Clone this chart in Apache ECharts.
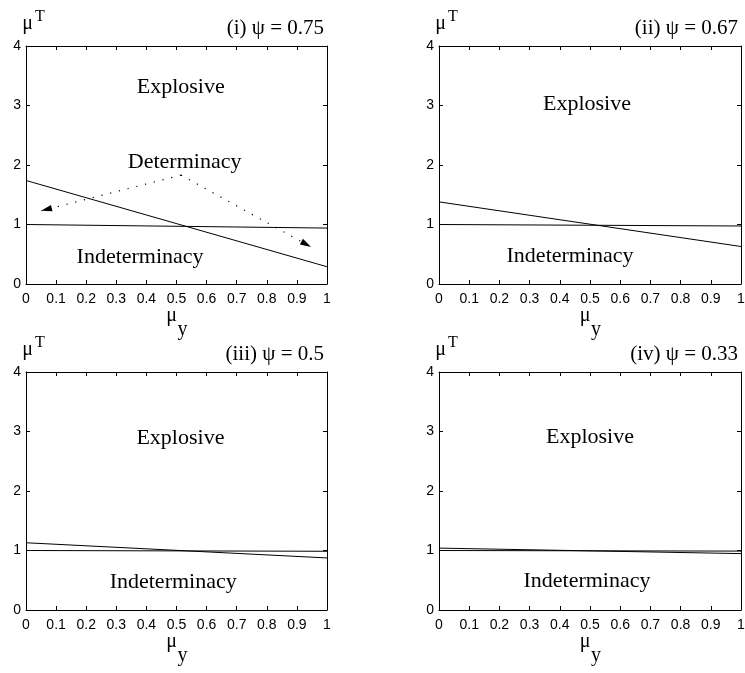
<!DOCTYPE html>
<html>
<head>
<meta charset="utf-8">
<script src="https://cdn.jsdelivr.net/npm/echarts@6/dist/echarts.min.js"></script>
<style>
html, body { margin: 0; padding: 0; background: #fff; }
#chart { width: 745px; height: 673px; }
</style>
</head>
<body>
<div id="chart"></div>
<script>
// Horizontal axis samples (mu_y) at which both boundary lines are given
const muY = [0, 1];

// Boundary lines of each panel (mu^T value at mu_y = 0 and mu_y = 1)
const flatLine1 = [1.00, 0.94];
const steepLine1 = [1.74, 0.29];
const flatLine2 = [1.00, 0.975];
const steepLine2 = [1.38, 0.63];
const flatLine3 = [1.00, 0.987];
const steepLine3 = [1.13, 0.875];
const flatLine4 = [1.00, 0.99];
const steepLine4 = [1.04, 0.948];

// Panel titles
const panelTitles = ['(i) \u03C8 = 0.75', '(ii) \u03C8 = 0.67', '(iii) \u03C8 = 0.5', '(iv) \u03C8 = 0.33'];

// Region names with their anchor in data coordinates [mu_y, mu^T, name]
const regions1 = [[0.514, 3.31, 'Explosive'], [0.527, 2.05, 'Determinacy'], [0.379, 0.45, 'Indeterminacy']];
const regions2 = [[0.490, 3.02, 'Explosive'], [0.434, 0.46, 'Indeterminacy']];
const regions3 = [[0.513, 2.89, 'Explosive'], [0.489, 0.47, 'Indeterminacy']];
const regions4 = [[0.500, 2.91, 'Explosive'], [0.490, 0.49, 'Indeterminacy']];

// Dotted arrows from the determinacy label down to the band between the lines
const arrowPeak = [0.515, 1.83];
const arrowTips = [[0.050, 1.23], [0.947, 0.622]];

// Tick labels
const xTickLabels = ['0', '0.1', '0.2', '0.3', '0.4', '0.5', '0.6', '0.7', '0.8', '0.9', '1'];
const yTickLabels = ['0', '1', '2', '3', '4'];

const panels = [
  { flat: flatLine1, steep: steepLine1, regions: regions1, title: panelTitles[0] },
  { flat: flatLine2, steep: steepLine2, regions: regions2, title: panelTitles[1] },
  { flat: flatLine3, steep: steepLine3, regions: regions3, title: panelTitles[2] },
  { flat: flatLine4, steep: steepLine4, regions: regions4, title: panelTitles[3] }
];

// Plot boxes in pixels
const boxes = [
  { left: 26, top: 46, width: 301, height: 238 },
  { left: 439, top: 46, width: 302, height: 238 },
  { left: 26, top: 372, width: 301, height: 238 },
  { left: 439, top: 372, width: 302, height: 238 }
];

const SERIF = 'Liberation Serif';
const SANS = 'Liberation Sans';
const axisLine = { show: true, onZero: false, lineStyle: { color: '#000', width: 1 } };
const axisTick = { show: true, inside: true, length: 4, lineStyle: { color: '#000', width: 1 } };

const grids = [], xAxes = [], yAxes = [], series = [], graphics = [];

function serifText(x, y, text, size, align) {
  return {
    type: 'text', x: x, y: y, silent: true,
    style: {
      text: text, fill: '#000', font: size + 'px ' + SERIF,
      textAlign: align, align: align, textVerticalAlign: 'middle', verticalAlign: 'middle'
    }
  };
}

panels.forEach((p, i) => {
  const b = boxes[i];
  grids.push({ left: b.left, top: b.top, width: b.width, height: b.height, show: false, containLabel: false, outerBoundsMode: 'none' });

  ['bottom', 'top'].forEach((pos, k) => {
    xAxes.push({
      gridIndex: i, type: 'value', position: pos, min: 0, max: 1, interval: 0.1,
      axisLine, axisTick, splitLine: { show: false },
      axisLabel: {
        show: k === 0, margin: 8, color: '#000', fontFamily: SANS, fontSize: 14,
        showMinLabel: true, showMaxLabel: true, hideOverlap: false,
        formatter: v => xTickLabels[Math.round(v * 10)]
      }
    });
  });
  ['left', 'right'].forEach((pos, k) => {
    yAxes.push({
      gridIndex: i, type: 'value', position: pos, min: 0, max: 4, interval: 1,
      axisLine, axisTick, splitLine: { show: false },
      axisLabel: {
        show: k === 0, margin: 5, color: '#000', fontFamily: SANS, fontSize: 14,
        showMinLabel: true, showMaxLabel: true,
        formatter: v => yTickLabels[Math.round(v)]
      }
    });
  });

  const ax = { xAxisIndex: 2 * i, yAxisIndex: 2 * i };
  [p.flat, p.steep].forEach(vals => {
    series.push(Object.assign({
      type: 'line', symbol: 'none', silent: true, animation: false,
      lineStyle: { color: '#000', width: 1 },
      data: muY.map((x, k) => [x, vals[k]])
    }, ax));
  });

  // Region names placed at data coordinates
  series.push(Object.assign({
    type: 'custom', silent: true, animation: false,
    data: p.regions.map(r => [r[0], r[1]]),
    renderItem: function (params, api) {
      const pt = api.coord([api.value(0), api.value(1)]);
      return {
        type: 'text', x: pt[0], y: pt[1],
        style: {
          text: p.regions[params.dataIndex][2], fill: '#000', font: '22px ' + SERIF,
          align: 'center', verticalAlign: 'middle', textAlign: 'center', textVerticalAlign: 'middle'
        }
      };
    }
  }, ax));

  // Title, right-aligned above the box
  graphics.push(serifText(b.left + b.width - 3, b.top - 17.5, p.title, 21, 'right'));
  // mu^T over the vertical axis
  graphics.push(serifText(b.left + 1.5, b.top - 22.5, '\u03BC', 20, 'center'));
  graphics.push(serifText(b.left + 9, b.top - 29, 'T', 16, 'left'));
  // mu_y under the horizontal axis
  const cx = b.left + b.width / 2;
  graphics.push(serifText(cx - 5, b.top + b.height + 32, '\u03BC', 20, 'center'));
  graphics.push(serifText(cx + 1, b.top + b.height + 46, 'y', 20, 'left'));
});

// Dotted shafts of the two arrows in panel (i)
series.push({
  type: 'lines', coordinateSystem: 'cartesian2d', xAxisIndex: 0, yAxisIndex: 0,
  silent: true, animation: false, symbol: 'none',
  lineStyle: { color: '#000', width: 1.2, type: [1.2, 7.8], opacity: 1, curveness: 0 },
  data: arrowTips.map(t => ({ coords: [arrowPeak, t] }))
});

// Filled arrowheads, oriented along each shaft
series.push({
  type: 'custom', coordinateSystem: 'cartesian2d', xAxisIndex: 0, yAxisIndex: 0,
  silent: true, animation: false,
  data: arrowTips.map(t => [arrowPeak[0], arrowPeak[1], t[0], t[1]]),
  renderItem: function (params, api) {
    const a = api.coord([api.value(0), api.value(1)]);
    const tip = api.coord([api.value(2), api.value(3)]);
    const dx = tip[0] - a[0], dy = tip[1] - a[1];
    const L = Math.hypot(dx, dy), ux = dx / L, uy = dy / L;
    const len = 11, hw = 3.2;
    const bx = tip[0] - ux * len, by = tip[1] - uy * len;
    return {
      type: 'polygon',
      shape: { points: [tip, [bx - uy * hw, by + ux * hw], [bx + uy * hw, by - ux * hw]] },
      style: { fill: '#000' }
    };
  }
});

const chart = echarts.init(document.getElementById('chart'), null, { renderer: 'canvas' });
chart.setOption({
  backgroundColor: '#fff',
  animation: false,
  grid: grids,
  xAxis: xAxes,
  yAxis: yAxes,
  series: series,
  graphic: graphics
});
</script>
</body>
</html>
